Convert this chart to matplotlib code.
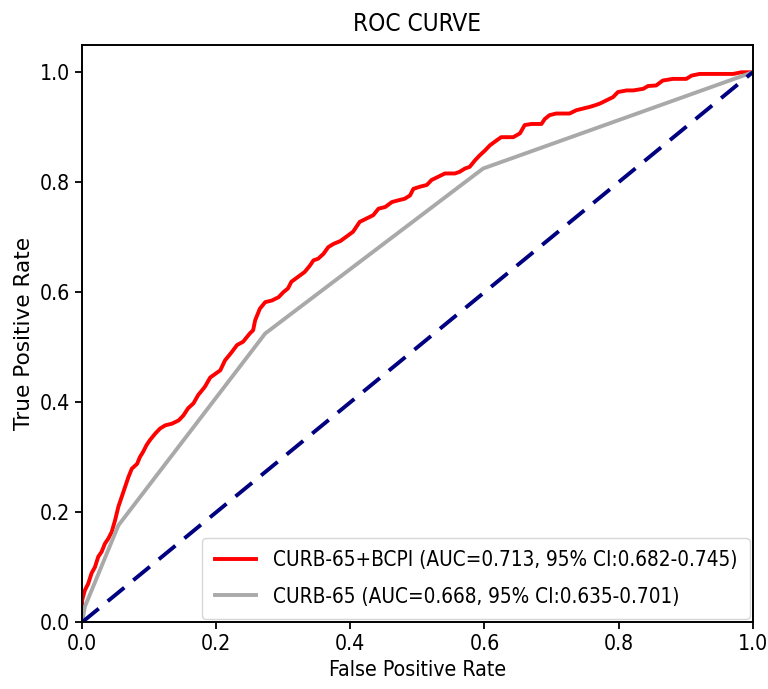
import matplotlib
matplotlib.use("Agg")
import matplotlib.pyplot as plt

# ---- data ----
fpr_bcpi = [0.0, 0.0, 0.004, 0.009, 0.014, 0.019, 0.024, 0.029, 0.034, 0.039, 0.044,
            0.049, 0.054, 0.059, 0.064, 0.069, 0.074, 0.082, 0.086, 0.091, 0.096,
            0.101, 0.109, 0.116, 0.124, 0.134, 0.144, 0.151, 0.158, 0.166, 0.173,
            0.183, 0.191, 0.206, 0.213, 0.223, 0.231, 0.24, 0.25, 0.255, 0.258,
            0.265, 0.273, 0.283, 0.293, 0.30, 0.307, 0.312, 0.322, 0.332, 0.34,
            0.345, 0.352, 0.36, 0.367, 0.375, 0.385, 0.394, 0.404, 0.414, 0.424,
            0.434, 0.442, 0.452, 0.462, 0.471, 0.481, 0.489, 0.494, 0.504, 0.514,
            0.521, 0.531, 0.541, 0.556, 0.563, 0.571, 0.578, 0.586, 0.593, 0.601,
            0.608, 0.618, 0.625, 0.643, 0.653, 0.660, 0.670, 0.685, 0.690, 0.697,
            0.707, 0.727, 0.737, 0.747, 0.757, 0.765, 0.772, 0.782, 0.792, 0.799,
            0.812, 0.822, 0.837, 0.844, 0.856, 0.866, 0.881, 0.901, 0.909, 0.921,
            0.971, 0.983, 1.0]
tpr_bcpi = [0.0, 0.04, 0.058, 0.070, 0.089, 0.10, 0.119, 0.128, 0.143, 0.152, 0.164,
            0.185, 0.21, 0.228, 0.246, 0.264, 0.279, 0.288, 0.30, 0.31, 0.322,
            0.331, 0.343, 0.352, 0.358, 0.361, 0.367, 0.376, 0.389, 0.398, 0.413,
            0.428, 0.445, 0.458, 0.476, 0.491, 0.504, 0.51, 0.525, 0.531, 0.549,
            0.570, 0.582, 0.585, 0.591, 0.60, 0.607, 0.619, 0.628, 0.637, 0.649,
            0.658, 0.661, 0.67, 0.682, 0.688, 0.693, 0.701, 0.710, 0.728, 0.734,
            0.74, 0.752, 0.755, 0.764, 0.767, 0.77, 0.776, 0.788, 0.792, 0.795,
            0.804, 0.81, 0.816, 0.816, 0.819, 0.825, 0.828, 0.84, 0.849, 0.858,
            0.867, 0.876, 0.882, 0.882, 0.889, 0.904, 0.906, 0.906, 0.915, 0.922,
            0.925, 0.925, 0.931, 0.934, 0.937, 0.94, 0.943, 0.949, 0.955, 0.964,
            0.967, 0.967, 0.97, 0.975, 0.976, 0.985, 0.988, 0.988, 0.994, 0.997,
            0.997, 1.0, 1.0]
fpr_curb = [0.0, 0.004, 0.054, 0.273, 0.598, 1.0]
tpr_curb = [0.0, 0.028, 0.176, 0.525, 0.825, 1.0]
chance = [0.0, 1.0]

label_bcpi = "CURB-65+BCPI (AUC=0.713, 95% CI:0.682-0.745)"
label_curb = "CURB-65 (AUC=0.668, 95% CI:0.635-0.701)"

plt.rcParams['font.family'] = ['DejaVu Sans']
plt.rcParams['font.stretch'] = 'condensed'

fig = plt.figure(figsize=(7.68, 6.89), dpi=100)
ax = fig.add_axes([0.107, 0.097, 0.873, 0.838])

ax.plot(fpr_bcpi, tpr_bcpi, color='red', lw=2.8, label=label_bcpi)
ax.plot(fpr_curb, tpr_curb, color='darkgray', lw=2.8, label=label_curb)
ax.plot(chance, chance, color='navy', lw=2.8, linestyle='--', dashes=(5.5, 3.0))

ax.set_xlim(0.0, 1.0)
ax.set_ylim(0.0, 1.05)
ax.set_xticks([0.0, 0.2, 0.4, 0.6, 0.8, 1.0])
ax.set_yticks([0.0, 0.2, 0.4, 0.6, 0.8, 1.0])
ax.tick_params(labelsize=15.3, width=1.3, length=5)
for s in ax.spines.values():
    s.set_linewidth(1.4)
ax.set_xlabel('False Positive Rate', fontsize=15.3)
ax.set_ylabel('True Positive Rate', fontsize=15.6, fontstretch='normal')
ax.set_title('ROC CURVE', fontsize=17.5, pad=10)
ax.legend(loc='lower right', fontsize=14.9, handlelength=2.0,
          borderaxespad=0.15, labelspacing=0.8, borderpad=0.6)

fig.savefig('out.png', dpi=100)
